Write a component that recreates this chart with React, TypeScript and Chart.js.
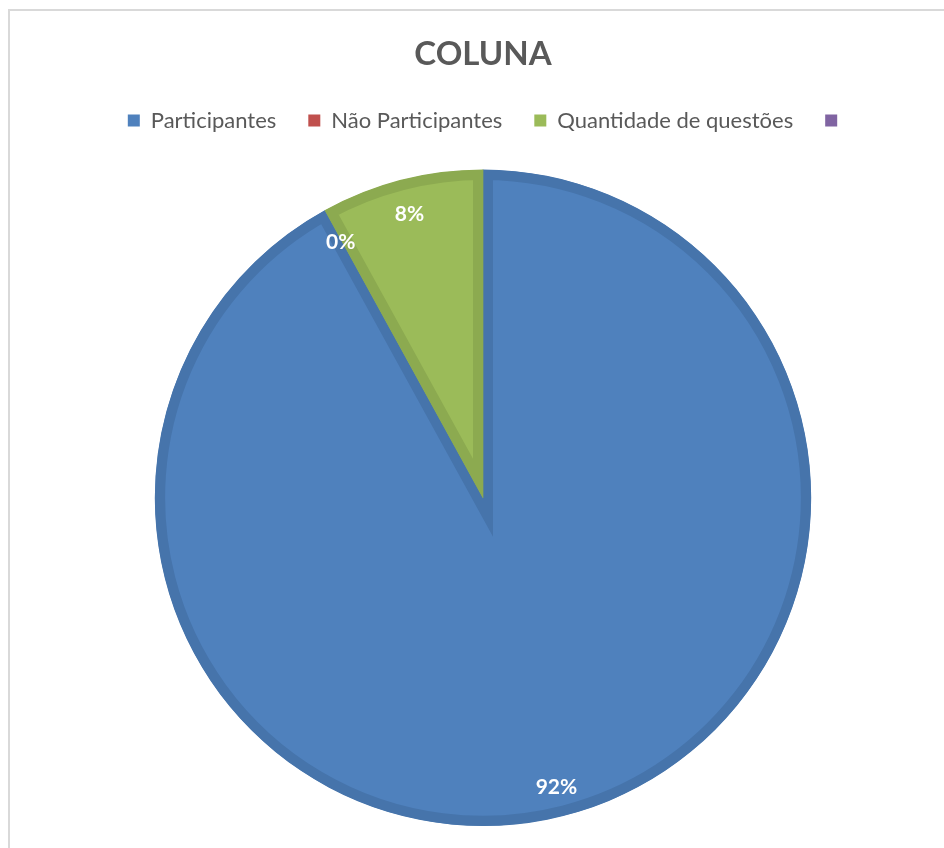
import { useEffect, useRef } from 'react';
import { Chart, registerables } from 'chart.js';

Chart.register(...registerables);

const titleText = 'COLUNA';
const categories = ['Participantes', 'Não Participantes', 'Quantidade de questões', ''];
const values: (number | null)[] = [92, 0, 8, null];
const fillColors = ['#4F81BD', '#C0504D', '#9BBB59', '#8064A2'];
const borderColors = ['#4674AB', '#AD4845', '#8CAA50', '#735A92'];

const total = values.reduce<number>((s, v) => s + (v ?? 0), 0);
const percentText = (v: number) => `${Math.round((v / total) * 100)}%`;

const sliceLabels = {
  id: 'sliceLabels',
  afterDatasetsDraw(chart: any) {
    const ctx = chart.ctx as CanvasRenderingContext2D;
    const meta = chart.getDatasetMeta(0);
    ctx.save();
    ctx.font = 'bold 21px Lato';
    ctx.fillStyle = '#FFFFFF';
    ctx.textAlign = 'center';
    ctx.textBaseline = 'middle';
    meta.data.forEach((arc: any, i: number) => {
      const v = values[i];
      if (v === null || v === undefined) return;
      const { x, y, startAngle, endAngle, outerRadius } = arc.getProps(
        ['x', 'y', 'startAngle', 'endAngle', 'outerRadius'],
        true
      );
      const mid = (startAngle + endAngle) / 2;
      const r = outerRadius * 0.9;
      ctx.fillText(percentText(v), x + Math.cos(mid) * r, y + Math.sin(mid) * r + 3);
    });
    ctx.restore();
  },
};

const legendSpacer = {
  id: 'legendSpacer',
  beforeLayout(chart: any) {
    const legend = chart.legend;
    if (legend && !legend.__patched) {
      const orig = legend.fit;
      legend.fit = function (this: any) {
        orig.call(this);
        this.height += 28;
        if (this.lineWidths && this.lineWidths.length) this.lineWidths[0] -= 10;
      };
      legend.__patched = true;
    }
  },
};

export default function App() {
  const canvasRef = useRef<HTMLCanvasElement | null>(null);

  useEffect(() => {
    if (!canvasRef.current) return;
    const baseGen = (Chart as any).overrides.doughnut.plugins.legend.labels.generateLabels;
    const chart = new Chart(canvasRef.current, {
      type: 'doughnut',
      data: {
        labels: categories,
        datasets: [
          {
            data: values as any,
            backgroundColor: fillColors,
            borderColor: borderColors,
            borderWidth: (c: any) => (values[c.dataIndex] ? 10 : 0),
            borderAlign: 'inner',
            borderJoinStyle: 'miter',
            hoverOffset: 0,
          } as any,
        ],
      },
      options: {
        animation: false,
        responsive: true,
        maintainAspectRatio: false,
        cutout: 0,
        rotation: 0,
        layout: { padding: { left: 12, right: 0, top: 0, bottom: 22 } },
        plugins: {
          title: {
            display: true,
            text: titleText,
            color: '#595959',
            font: { family: 'Lato', size: 33, weight: 'bold' },
            padding: { top: 24, bottom: 3 },
          },
          legend: {
            display: true,
            position: 'top',
            labels: {
              color: '#595959',
              font: { family: 'Lato', size: 22 },
              boxWidth: 12,
              boxHeight: 12,
              padding: 32,
              generateLabels: (ch: any) =>
                baseGen(ch).map((it: any) => ({ ...it, lineWidth: 0 })),
            },
          },
          tooltip: { enabled: false },
        },
      } as any,
      plugins: [sliceLabels, legendSpacer],
    });
    return () => chart.destroy();
  }, []);

  return (
    <div
      style={{
        position: 'absolute',
        left: 8,
        top: 9,
        width: 936,
        height: 839,
        borderTop: '2px solid #D9D9D9',
        borderLeft: '2px solid #D9D9D9',
        boxSizing: 'border-box',
        background: '#FFFFFF',
      }}
    >
      <div style={{ position: 'relative', width: 934, height: 837 }}>
        <canvas ref={canvasRef} />
      </div>
    </div>
  );
}
